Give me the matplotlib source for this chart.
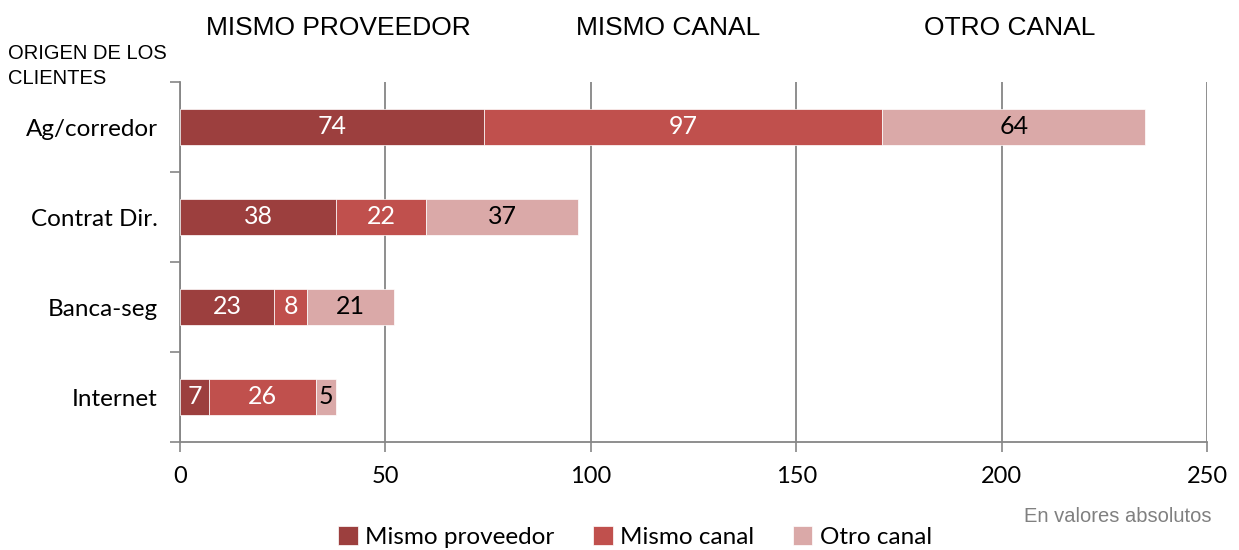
import matplotlib
matplotlib.use("Agg")
import matplotlib.pyplot as plt
import numpy as np

categories = ["Ag/corredor", "Contrat Dir.", "Banca-seg", "Internet"]
mismo_proveedor = [74, 38, 23, 7]
mismo_canal = [97, 22, 8, 26]
otro_canal = [64, 37, 21, 5]
series_names = ["Mismo proveedor", "Mismo canal", "Otro canal"]
colors = ["#9C3F3E", "#C0504D", "#DAA9A8"]
label_colors = ["white", "white", "black"]
xticks = [0, 50, 100, 150, 200, 250]

fig = plt.figure(figsize=(12.39, 5.5), dpi=100)
ax = fig.add_axes([180/1239, 1-442/550, (1207-180)/1239, (442-82)/550])

lab_font = "Lato"
y = np.arange(len(categories))
left = np.zeros(len(categories))
for vals, name, c, lc in zip([mismo_proveedor, mismo_canal, otro_canal], series_names, colors, label_colors):
    vals = np.array(vals, dtype=float)
    ax.barh(y, vals, left=left, height=0.4, color=c, edgecolor="white", linewidth=0.5, label=name, zorder=3)
    for yi, l, v in zip(y, left, vals):
        ax.text(l + v/2, yi, f"{int(v)}", ha="center", va="center", color=lc, fontsize=18, family=lab_font, zorder=4)
    left = left + vals

ax.set_ylim(3.5, -0.5)
ax.set_xlim(0, 250)
ax.set_xticks(xticks)
ax.set_xticklabels([str(t) for t in xticks], fontsize=17, family=lab_font)
ax.set_yticks([-0.5, 0.5, 1.5, 2.5, 3.5])
ax.set_yticklabels([])
ax.set_yticks(y, minor=True)
ax.set_yticklabels(categories, minor=True, fontsize=17.5, family=lab_font)
ax.tick_params(axis="y", which="minor", length=0, pad=16)
ax.tick_params(axis="y", which="major", length=7, color="#868686", width=1.2, direction="out")
ax.tick_params(axis="x", length=7, color="#868686", width=1.2, direction="out", pad=10)

gc = "#868686"
ax.grid(axis="x", color=gc, linewidth=1.3, zorder=0)
for s in ["top", "right"]:
    ax.spines[s].set_visible(False)
for s in ["left", "bottom"]:
    ax.spines[s].set_color(gc)
    ax.spines[s].set_linewidth(1.3)

title_font = "Liberation Sans"
fig.text(338/1239, 1-28/550, "MISMO PROVEEDOR", ha="center", va="center", fontsize=19, family=title_font)
fig.text(668/1239, 1-28/550, "MISMO CANAL", ha="center", va="center", fontsize=19, family=title_font)
fig.text(1010/1239, 1-28/550, "OTRO CANAL", ha="center", va="center", fontsize=19, family=title_font)
fig.text(8/1239, 1-66/550, "ORIGEN DE LOS\nCLIENTES", ha="left", va="center", fontsize=14.5, family=title_font, linespacing=1.45)
fig.text(1212/1239, 1-517/550, "En valores absolutos", ha="right", va="center", fontsize=14.5, family=title_font, color="#808080")

fig.legend(loc="center", bbox_to_anchor=(635/1239, 1-537/550), ncol=3, frameon=False,
           prop={"family": lab_font, "size": 17.5}, handlelength=0.8, handleheight=0.8,
           handletextpad=0.3, columnspacing=1.6)

fig.savefig("out.png", dpi=100)
